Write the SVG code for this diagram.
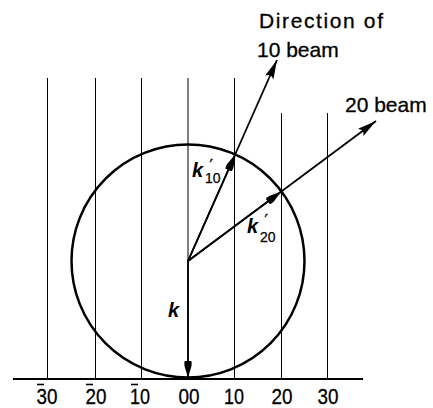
<svg xmlns="http://www.w3.org/2000/svg" width="433" height="408" viewBox="0 0 433 408">
<style>
  .grid { stroke: #000; stroke-width: 1; fill: none; }
  .base { stroke: #000; stroke-width: 2; fill: none; }
  .circ { stroke: #000; stroke-width: 2.5; fill: none; }
  .ray { stroke: #000; stroke-width: 1.8; fill: none; }
  .lbl { font-family: "Liberation Sans", Arial, sans-serif; font-size: 21px; fill: #000; stroke: #000; stroke-width: 0.3; }
  .idx { font-family: "Liberation Sans", Arial, sans-serif; font-size: 22px; fill: #000; stroke: #000; stroke-width: 0.3; text-anchor: middle; }
  .kb { font-family: "Liberation Sans", Arial, sans-serif; font-size: 20px; font-weight: bold; font-style: italic; fill: #000; }
  .pr { font-family: "DejaVu Sans", sans-serif; font-size: 15px; font-weight: normal; font-style: normal; stroke: #000; stroke-width: 0.4; }
  .sub { font-family: "Liberation Sans", Arial, sans-serif; font-size: 14px; font-weight: normal; font-style: normal; stroke: #000; stroke-width: 0.25; }
  .bar { stroke: #000; stroke-width: 1.6; }
</style>
<defs>
  <marker id="beamHead" viewBox="0 0 19 9" refX="19" refY="4.5" markerWidth="19" markerHeight="9" markerUnits="userSpaceOnUse" orient="auto">
    <path d="M0,0 L19,4.5 L0,9 L3,4.5 z" fill="#000"/>
  </marker>
  <marker id="kHead" viewBox="0 0 17 9" refX="17" refY="4.5" markerWidth="17" markerHeight="9" markerUnits="userSpaceOnUse" orient="auto">
    <path d="M0,1.2 Q2,0.5 5,1 L17,4.5 L5,8 Q2,8.5 0,7.8 z" fill="#000"/>
  </marker>
</defs>

<g id="grid">
  <line class="grid" x1="47.5" y1="78" x2="47.5" y2="379"/>
  <line class="grid" x1="95.5" y1="78" x2="95.5" y2="379"/>
  <line class="grid" x1="141.5" y1="78" x2="141.5" y2="379"/>
  <line class="grid" x1="188" y1="78" x2="188" y2="379"/>
  <line class="grid" x1="234.5" y1="78" x2="234.5" y2="379"/>
  <line class="grid" x1="281.5" y1="113" x2="281.5" y2="379"/>
  <line class="grid" x1="327.5" y1="113" x2="327.5" y2="379"/>
  <line class="base" x1="13" y1="379" x2="363" y2="379"/>
</g>

<g id="ewald-sphere">
  <circle class="circ" cx="188" cy="261" r="116.5"/>
</g>

<g id="connectors">
  <line class="ray" x1="188" y1="261" x2="277" y2="60" marker-end="url(#beamHead)"/>
  <line class="ray" x1="188" y1="261" x2="376" y2="121" marker-end="url(#beamHead)"/>
  <line class="ray" x1="188" y1="261" x2="235.2" y2="154.5" marker-end="url(#kHead)"/>
  <line class="ray" x1="188" y1="261" x2="281.4" y2="191.4" marker-end="url(#kHead)"/>
  <line class="ray" x1="188" y1="261" x2="188" y2="378" marker-end="url(#kHead)"/>
</g>

<g id="labels">
  <text class="lbl" x="259" y="28" textLength="124">Direction of</text>
  <text class="lbl" x="257" y="57">10 beam</text>
  <text class="lbl" x="345" y="112">20 beam</text>
  <text class="kb" x="168" y="317">k</text>
  <text class="kb" x="192" y="177">k<tspan class="pr" x="209.5" y="171">′</tspan><tspan class="sub" x="205" y="183">10</tspan></text>
  <text class="kb" x="247" y="233">k<tspan class="pr" x="264.5" y="226">′</tspan><tspan class="sub" x="260" y="242">20</tspan></text>
</g>

<g id="indices">
  <text class="idx" x="47" y="404" textLength="21" lengthAdjust="spacingAndGlyphs">30</text>
  <text class="idx" x="96" y="404" textLength="21" lengthAdjust="spacingAndGlyphs">20</text>
  <text class="idx" x="140" y="404" textLength="20" lengthAdjust="spacingAndGlyphs">10</text>
  <text class="idx" x="189" y="404" textLength="21" lengthAdjust="spacingAndGlyphs">00</text>
  <text class="idx" x="234" y="404" textLength="20" lengthAdjust="spacingAndGlyphs">10</text>
  <text class="idx" x="282" y="404" textLength="21" lengthAdjust="spacingAndGlyphs">20</text>
  <text class="idx" x="328" y="404" textLength="21" lengthAdjust="spacingAndGlyphs">30</text>
  <line class="bar" x1="37" y1="384.5" x2="44" y2="384.5"/>
  <line class="bar" x1="86" y1="384.5" x2="93" y2="384.5"/>
  <line class="bar" x1="131" y1="384.5" x2="138" y2="384.5"/>
</g>
</svg>
